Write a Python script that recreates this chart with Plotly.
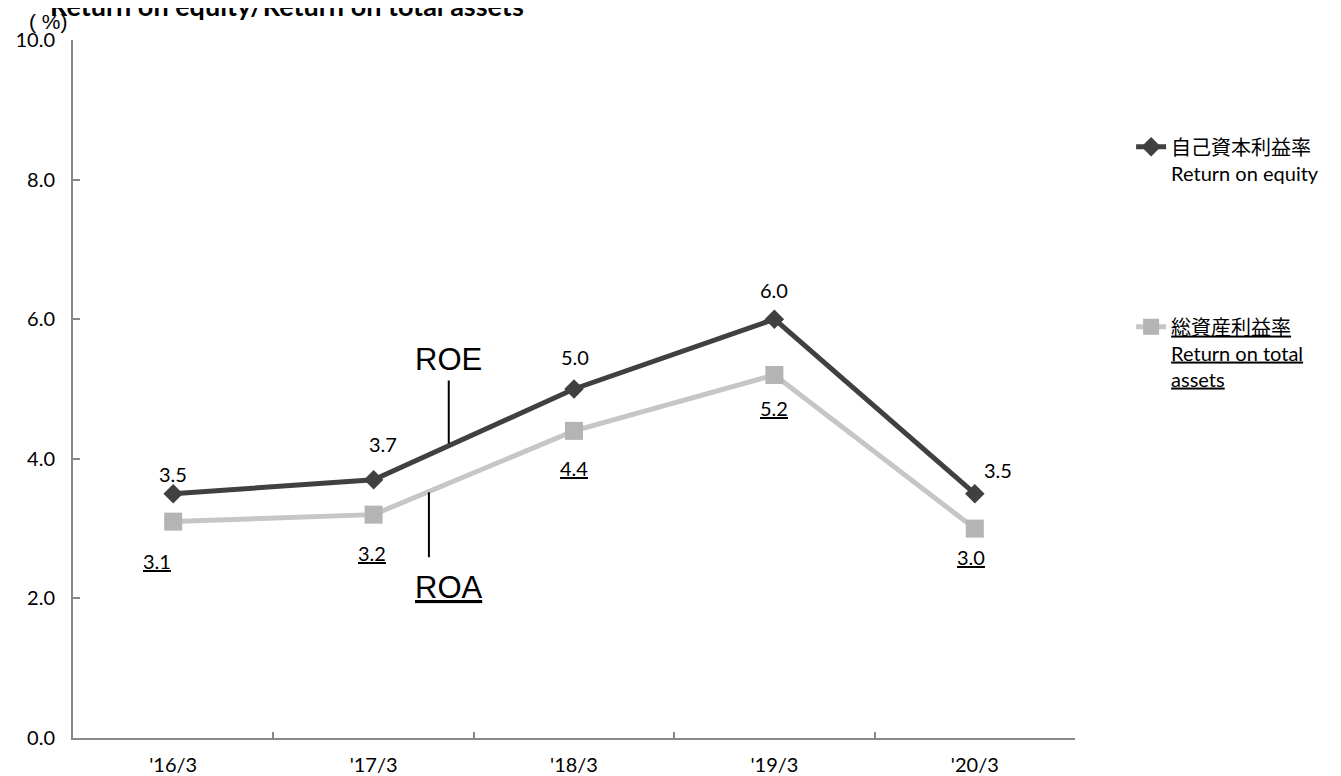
import plotly.graph_objects as go

periods = ["'16/3", "'17/3", "'18/3", "'19/3", "'20/3"]
roe = [3.5, 3.7, 5.0, 6.0, 3.5]
roa = [3.1, 3.2, 4.4, 5.2, 3.0]
y_ticks = [0, 2, 4, 6, 8, 10]

# label offsets (px) roughly as placed in the original
roe_shift = [(0, 20), (9, 36), (1, 32), (0, 29), (23, 24)]
roa_shift = [(-16, -39), (-2, -38), (0, -37), (0, -33), (-4, -28)]

FONT = "Lato, Noto Sans CJK JP, sans-serif"

fig = go.Figure()
fig.add_trace(go.Scatter(
    x=periods, y=roe, mode='lines+markers', legendgroup='a',
    name='自己資本利益率<br>Return on equity',
    line=dict(color='#404040', width=5),
    marker=dict(symbol='diamond', size=15, color='#404040')))
fig.add_trace(go.Scatter(
    x=periods, y=roa, mode='lines+markers', legendgroup='b',
    name='<u>総資産利益率</u><br><u>Return on total</u><br><u>assets</u>',
    line=dict(color='#c6c6c6', width=5),
    marker=dict(symbol='square', size=18, color='#b4b4b4')))

for i, p in enumerate(periods):
    fig.add_annotation(x=p, y=roe[i], text=f"{roe[i]:.1f}", showarrow=False,
                       xshift=roe_shift[i][0], yshift=roe_shift[i][1],
                       font=dict(size=20, color='#000', family=FONT))
    fig.add_annotation(x=p, y=roa[i], text=f"<u>{roa[i]:.1f}</u>", showarrow=False,
                       xshift=roa_shift[i][0], yshift=roa_shift[i][1],
                       font=dict(size=20, color='#000', family=FONT))

# ROE / ROA callouts
fig.add_annotation(x=1.375, y=4.22, ax=0, ay=-63, text="ROE", showarrow=True,
                   arrowhead=0, arrowwidth=2, arrowcolor='#000', yanchor='bottom',
                   borderpad=2,
                   font=dict(size=31, color='#000', family='Liberation Sans, Arial'))
fig.add_shape(type='line', x0=1.276, x1=1.276, y0=3.52, y1=2.59,
              line=dict(color='#000', width=2))
fig.add_annotation(x=1.375, y=2.15, text="<u>ROA</u>", showarrow=False, yanchor='middle',
                   font=dict(size=31, color='#000', family='Liberation Sans, Arial'))

# unit label and (clipped) title
fig.add_annotation(xref='paper', yref='paper', x=-0.024, y=1.026, text="( %)", showarrow=False,
                   xanchor='center', yanchor='middle',
                   font=dict(size=21, color='#000', family='Liberation Sans, Arial'))
fig.add_annotation(xref='paper', yref='paper', x=-0.025, y=1.049,
                   text="<b>Return on equity/Return on total assets</b>", showarrow=False,
                   xanchor='left', yanchor='middle', font=dict(size=27, color='#000', family=FONT))

# page body has an 8px margin, so the figure is a bit smaller and margins compensate
fig.update_layout(
    width=1333, height=768,
    margin=dict(l=65, r=266, t=32, b=38),
    plot_bgcolor='white', paper_bgcolor='white',
    font=dict(family=FONT, size=20, color='#000'),
    showlegend=True,
    legend=dict(x=1.056, y=0.875, xanchor='left', yanchor='top', valign='top',
                tracegroupgap=125, font=dict(size=20, family=FONT, color='#000'),
                bgcolor='rgba(0,0,0,0)'),
    xaxis=dict(range=[-0.5, 4.5], showline=True, linecolor='#888', linewidth=2,
               ticks='inside', tickson='boundaries', ticklen=6, tickcolor='#888', tickwidth=2,
               showgrid=False, tickfont=dict(size=20), zeroline=False, automargin=False,
               ticklabelstandoff=8),
    yaxis=dict(range=[0, 10], tickvals=y_ticks, tickformat='.1f', showline=True,
               linecolor='#888', linewidth=2, ticks='inside', ticklen=7, tickcolor='#888',
               tickwidth=2, showgrid=False, zeroline=False, tickfont=dict(size=20),
               ticklabelstandoff=12, automargin=False),
)

fig.write_html("out.html")
